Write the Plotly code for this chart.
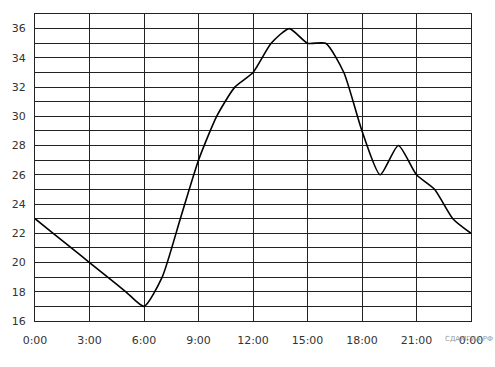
import plotly.graph_objects as go

hours = list(range(0, 25))
temps = [23, 22, 21, 20, 19, 18, 17, 19, 23, 27, 30, 32, 33, 35, 36, 35, 35, 33, 29, 26, 28, 26, 25, 23, 22]

x_tick_vals = [0, 3, 6, 9, 12, 15, 18, 21, 24]
x_tick_text = ["0:00", "3:00", "6:00", "9:00", "12:00", "15:00", "18:00", "21:00", "0:00"]
y_tick_vals = [16, 18, 20, 22, 24, 26, 28, 30, 32, 34, 36]

fig = go.Figure()
fig.add_trace(go.Scatter(
    x=hours, y=temps, mode="lines",
    line=dict(color="black", width=1.6, shape="spline", smoothing=0.6),
    hoverinfo="skip", showlegend=False,
))

font = dict(family="DejaVu Sans", size=11, color="#333333")

fig.update_layout(
    width=495, height=367,
    margin=dict(l=35, r=20, t=14, b=46),
    paper_bgcolor="white", plot_bgcolor="white",
    showlegend=False,
    font=font,
)
fig.update_xaxes(
    range=[0, 24],
    tickvals=x_tick_vals, ticktext=x_tick_text,
    showgrid=True, gridcolor="#222222", gridwidth=1,
    showline=True, linecolor="#222222", linewidth=1, mirror=True,
    zeroline=False, ticks="", ticklabelstandoff=9,
    tickfont=font,
)
fig.update_yaxes(
    range=[16, 37],
    tickvals=y_tick_vals,
    showgrid=True, gridcolor="#222222", gridwidth=1,
    minor=dict(dtick=1, tick0=16, showgrid=True, gridcolor="#222222", gridwidth=1),
    showline=True, linecolor="#222222", linewidth=1, mirror=True,
    zeroline=False, ticks="", ticklabelstandoff=6,
    tickfont=font,
)

fig.add_annotation(
    text="СДАМГИА.РФ", xref="paper", yref="paper",
    x=1.0, y=0, xanchor="left", yanchor="top",
    xshift=-28, yshift=-12,
    showarrow=False,
    font=dict(family="DejaVu Sans", size=7, color="#999999"),
)

fig.write_html("out.html")
